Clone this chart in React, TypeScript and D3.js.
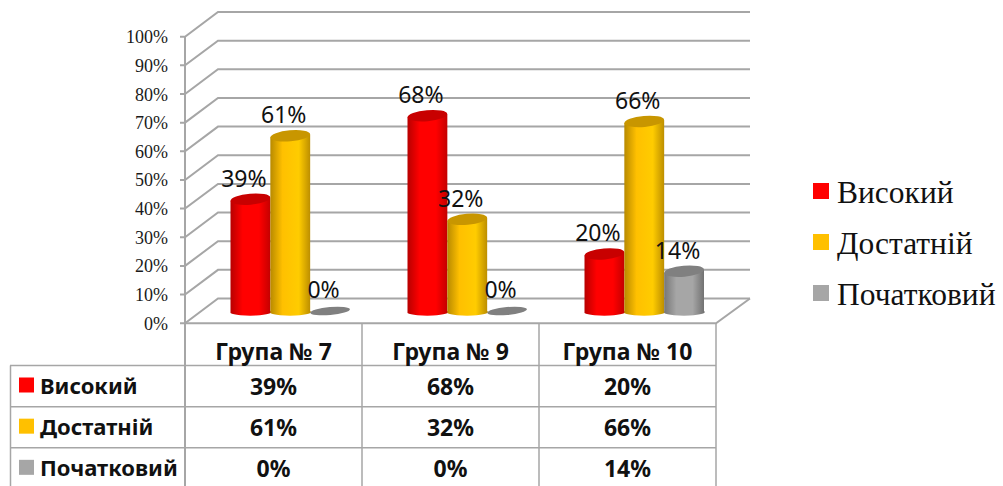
import React from "react";
import * as d3 from "d3";

const groups = ["Група № 7", "Група № 9", "Група № 10"];
const seriesNames = ["Високий", "Достатній", "Початковий"];
const visokyi = [39, 68, 20];
const dostatnii = [61, 32, 66];
const pochatkovyi = [0, 0, 14];
const seriesValues = [visokyi, dostatnii, pochatkovyi];
const seriesColors = ["#ff0000", "#ffc000", "#a6a6a6"];
const gradStops = [
  ["#b80000", "#ff0000", "#ff0000", "#c00000"],
  ["#b88a00", "#ffc000", "#ffcc00", "#b88a00"],
  ["#777777", "#a6a6a6", "#a6a6a6", "#6e6e6e"],
];
const topColors = ["#c80000", "#c89600", "#808080"];
const yTicks = d3.range(0, 101, 10);

const W = 1003, H = 486;
const LABEL_FONT = "'Noto Sans', sans-serif";
const SERIF = "'Liberation Serif', serif";
const GRID = "#a6a6a6";

export default function App() {
  const yFront = d3.scaleLinear().domain([0, 100]).range([323.2, 36.7]);
  const yBack = d3.scaleLinear().domain([0, 100]).range([298.5, 12]);
  const yBar = d3.scaleLinear().domain([0, 100]).range([313, 25]);
  const xCols = d3.scaleBand<string>().domain(groups).range([185, 716]);
  const xBar = d3.scaleBand<string>().domain(seriesNames).range([45.5, 165]);
  const rowY = d3.scaleBand<string>().domain(seriesNames).range([365.5, 489]);
  const backL = 218, backR = 750, frontL = 185, frontR = 716;
  const ry = 5.5;

  return (
    <svg width={W} height={H} style={{ position: "absolute", left: 0, top: 0, background: "#fff" }}>
      <defs>
        {gradStops.map((s, i) => (
          <linearGradient key={i} id={`g${i}`} x1="0" x2="1" y1="0" y2="0">
            <stop offset="0" stopColor={s[0]} />
            <stop offset="0.3" stopColor={s[1]} />
            <stop offset="0.7" stopColor={s[2]} />
            <stop offset="1" stopColor={s[3]} />
          </linearGradient>
        ))}
      </defs>

      {/* 3D grid */}
      {yTicks.map((t) => (
        <g key={t} stroke={GRID} strokeWidth={2} fill="none">
          <polyline points={`${frontL - 5},${yFront(t)} ${frontL},${yFront(t)} ${backL},${yBack(t)} ${backR},${yBack(t)}`} />
        </g>
      ))}
      <line x1={frontL} x2={frontL} y1={yFront(100)} y2={yFront(0)} stroke={GRID} strokeWidth={2} />
      <polyline points={`${frontL},${yFront(0)} ${frontR},${yFront(0)} ${backR},${yBack(0)}`} fill="none" stroke={GRID} strokeWidth={2} />

      {/* axis labels */}
      {yTicks.map((t) => (
        <text key={t} x={168} y={yFront(t) + 6.5} textAnchor="end" fontFamily={SERIF} fontSize={18} fill="#1a1a1a">{t}%</text>
      ))}

      {/* cylinders */}
      {groups.map((g, gi) =>
        seriesNames.map((s, si) => {
          const v = seriesValues[si][gi];
          const x0 = (xCols(g) as number) + (xBar(s) as number);
          const w = xBar.bandwidth();
          const cx = x0 + w / 2;
          const rx = w / 2;
          const top = yBar(v);
          const base = yBar(0);
          if (v === 0) {
            return (
              <ellipse key={s} cx={cx} cy={base - 2} rx={rx} ry={ry - 1.5} fill="#808080"
                transform={`rotate(-5 ${cx} ${base - 2})`} />
            );
          }
          const d = `M${x0},${top} L${x0},${base} A${rx},3.5 0 0 0 ${x0 + w},${base - 2} L${x0 + w},${top - 3} Z`;
          return (
            <g key={s}>
              <path d={d} fill={`url(#g${si})`} />
              <ellipse cx={cx} cy={top - 1.5} rx={rx} ry={ry} fill={topColors[si]}
                transform={`rotate(-5 ${cx} ${top - 1.5})`} />
            </g>
          );
        })
      )}

      {/* data labels */}
      {groups.map((g, gi) =>
        seriesNames.map((s, si) => {
          const v = seriesValues[si][gi];
          const cx = (xCols(g) as number) + (xBar(s) as number) + xBar.bandwidth() / 2;
          return (
            <text key={s} x={cx - 6.5} y={yBar(v) - 14 + (v === 0 ? -1 : 0)} textAnchor="middle" fontFamily={LABEL_FONT} fontSize={23} fill="#111">{v}%</text>
          );
        })
      )}

      {/* table */}
      <g stroke={GRID} strokeWidth={1.5}>
        {[...groups.map((g) => xCols(g) as number), frontR].map((x, i) => (
          <line key={i} x1={x} x2={x} y1={323} y2={H} strokeWidth={i === 0 ? 2 : 1.5} />
        ))}
        <line x1={10.5} x2={10.5} y1={365.5} y2={H} />
        {seriesNames.map((s) => (
          <line key={s} x1={10} x2={frontR} y1={rowY(s)} y2={rowY(s)} />
        ))}
      </g>
      {groups.map((g) => (
        <text key={g} x={(xCols(g) as number) + xCols.bandwidth() / 2} y={359.5} textAnchor="middle" fontFamily={LABEL_FONT} fontWeight={700} fontSize={23} fill="#111">{g}</text>
      ))}
      {seriesNames.map((s, si) => (
        <g key={s}>
          <rect x={19} y={(rowY(s) as number) + 12} width={15} height={15} fill={seriesColors[si]} />
          <text x={40} y={(rowY(s) as number) + 28} fontFamily={LABEL_FONT} fontWeight={700} fontSize={22} fill="#111">{s}</text>
          {groups.map((g, gi) => (
            <text key={g} x={(xCols(g) as number) + xCols.bandwidth() / 2} y={(rowY(s) as number) + 29.5} textAnchor="middle" fontFamily={LABEL_FONT} fontWeight={700} fontSize={23} fill="#111">{seriesValues[si][gi]}%</text>
          ))}
        </g>
      ))}

      {/* legend */}
      {seriesNames.map((s, si) => (
        <g key={s}>
          <rect x={813} y={183 + si * 51} width={16} height={16} fill={seriesColors[si]} />
          <text x={837} y={202.5 + si * 51} fontFamily={SERIF} fontSize={31.5} fill="#111">{s}</text>
        </g>
      ))}
    </svg>
  );
}
